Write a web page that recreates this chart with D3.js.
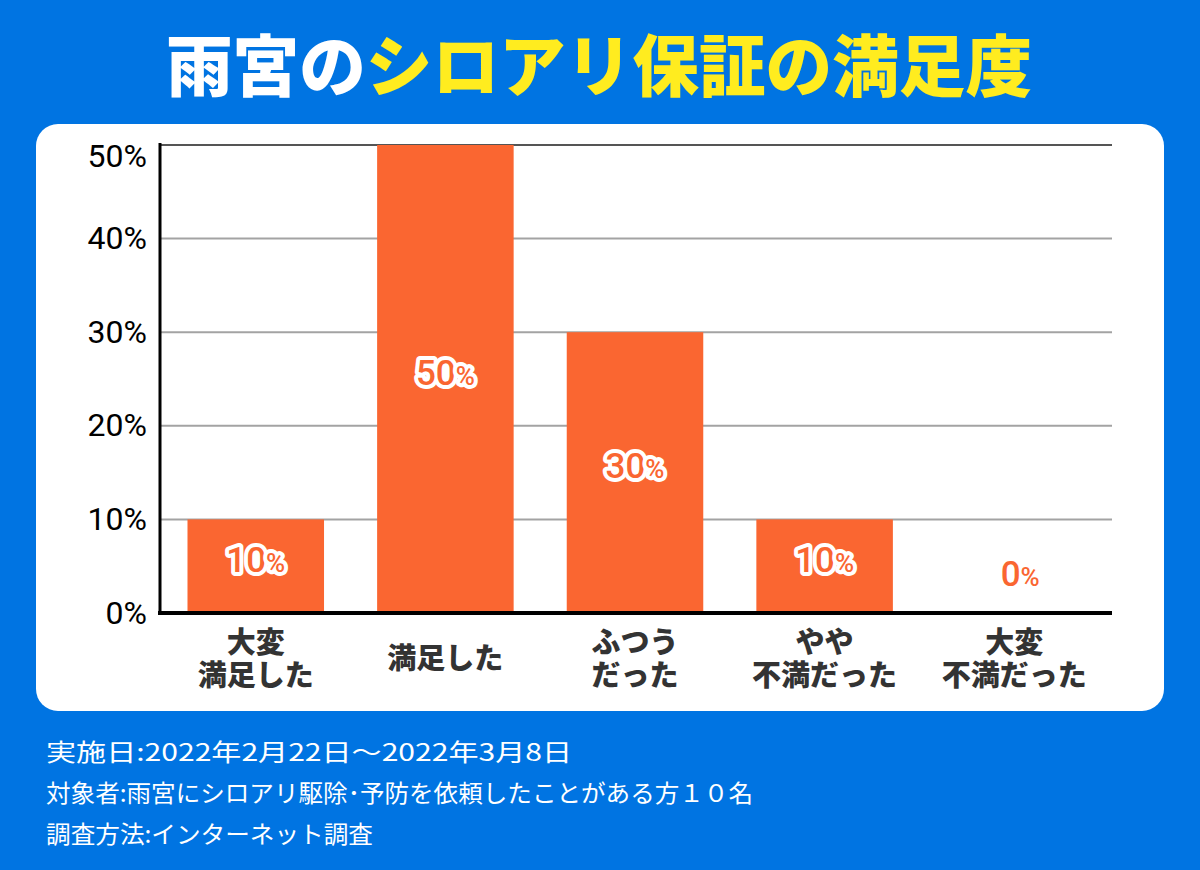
<!DOCTYPE html>
<html><head><meta charset="utf-8">
<script src="https://cdn.jsdelivr.net/npm/d3@7"></script>
<style>html,body{margin:0;padding:0;background:#0074E2;}svg{display:block;}</style>
</head><body>
<script>
const titleWhite = "雨宮の";
const titleYellow = "シロアリ保証の満足度";
const categories = [["大変","満足した"],["満足した"],["ふつう","だった"],["やや","不満だった"],["大変","不満だった"]];
const values = [10, 50, 30, 10, 0];
const yTicks = [0, 10, 20, 30, 40, 50];
const footnotes = [
  "実施日:2022年2月22日～2022年3月8日",
  "対象者:雨宮にシロアリ駆除･予防を依頼したことがある方１０名",
  "調査方法:インターネット調査"
];

const W = 1200, H = 870;
const svg = d3.select("body").append("svg").attr("width", W).attr("height", H);
svg.append("rect").attr("width", W).attr("height", H).attr("fill", "#0074E2");

// title
const t = svg.append("text").attr("x", 599).attr("y", 91).attr("text-anchor", "middle")
  .attr("font-family", "'Noto Sans CJK JP'").attr("font-weight", 900).attr("font-size", 67)
  .attr("textLength", 866).attr("lengthAdjust", "spacingAndGlyphs");
t.append("tspan").attr("fill", "#fff").text(titleWhite);
t.append("tspan").attr("fill", "#FFEC1F").text(titleYellow);

// panel
svg.append("rect").attr("x", 36).attr("y", 124).attr("width", 1128).attr("height", 587)
  .attr("rx", 22).attr("fill", "#fff");

const x = d3.scaleBand().domain(d3.range(categories.length)).range([160, 1110])
  .paddingInner(0.28).paddingOuter(0.145);
const y = d3.scaleLinear().domain([0, 50]).range([613, 145]);

// gridlines
svg.append("g").selectAll("line").data(yTicks.filter(d => d > 0)).join("line")
  .attr("x1", 160).attr("x2", 1112).attr("y1", d => y(d)).attr("y2", d => y(d))
  .attr("stroke", d => d === 50 ? "#555" : "#a3a3a3").attr("stroke-width", 2);

// bars
const orange = "#FA6631";
svg.append("g").selectAll("rect").data(values).join("rect")
  .attr("x", (d, i) => x(i)).attr("width", x.bandwidth())
  .attr("y", d => y(d)).attr("height", d => y(0) - y(d)).attr("fill", orange);

// axes
svg.append("line").attr("x1", 160).attr("x2", 160).attr("y1", 143).attr("y2", 615)
  .attr("stroke", "#000").attr("stroke-width", 3);
svg.append("line").attr("x1", 158).attr("x2", 1112).attr("y1", 613).attr("y2", 613)
  .attr("stroke", "#000").attr("stroke-width", 4);

// y tick labels
svg.append("g").selectAll("text").data(yTicks).join("text")
  .attr("x", 147).attr("y", d => Math.max(y(d) - 1, 155)).attr("dy", "0.36em")
  .attr("text-anchor", "end").attr("font-family", "Roboto").attr("font-weight", 400)
  .attr("font-size", 32).attr("fill", "#000").text(d => d + "%");

// bar value labels
const lab = svg.append("g").selectAll("text").data(values).join("text")
  .attr("x", (d, i) => x(i) + x.bandwidth() / 2 + (d > 0 ? 0 : 6))
  .attr("y", d => d > 0 ? (y(d) + y(0)) / 2 : y(0) - 33)
  .attr("dy", "0.36em").attr("text-anchor", "middle")
  .attr("font-family", "Roboto").attr("font-weight", 500)
  .attr("fill", orange)
  .attr("stroke", d => d > 0 ? "#fff" : "none").attr("stroke-width", 8)
  .attr("stroke-linejoin", "round").attr("paint-order", "stroke");
lab.append("tspan").attr("font-size", 35).text(d => d);
lab.append("tspan").attr("font-size", 26).text("%");

// x category labels
const cl = svg.append("g").selectAll("text").data(categories).join("text")
  .attr("x", (d, i) => x(i) + x.bandwidth() / 2)
  .attr("text-anchor", "middle").attr("font-family", "'Noto Sans CJK JP'")
  .attr("font-weight", 900).attr("font-size", 29).attr("fill", "#333");
cl.each(function (d) {
  const sel = d3.select(this);
  const base = d.length === 1 ? 669 : 653;
  d.forEach((line, k) => {
    sel.append("tspan").attr("x", sel.attr("x")).attr("y", base + k * 33).text(line);
  });
});

// footnotes
const fLens = [526, 707, 327];
svg.append("g").selectAll("text").data(footnotes).join("text")
  .attr("x", 46).attr("y", (d, i) => 761 + i * 41)
  .attr("font-family", "'Noto Sans CJK JP'").attr("font-size", 24).attr("fill", "#fff")
  .attr("textLength", (d, i) => fLens[i]).attr("lengthAdjust", "spacingAndGlyphs")
  .text(d => d);
</script>
</body></html>
